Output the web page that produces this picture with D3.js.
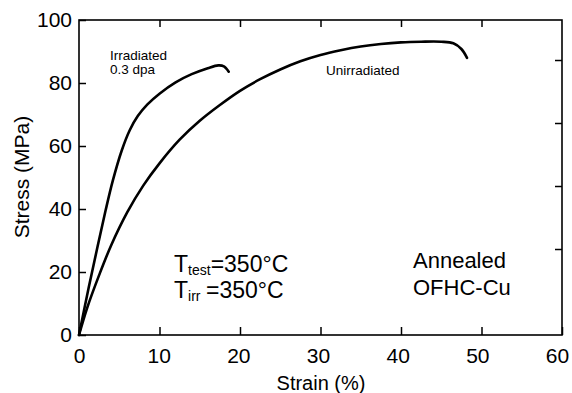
<!DOCTYPE html>
<html>
<head>
<meta charset="utf-8">
<script src="https://cdn.jsdelivr.net/npm/d3@7"></script>
<style>
  html, body { margin: 0; padding: 0; background: #fff; }
  svg { display: block; }
  text { font-family: "Liberation Sans", Arial, sans-serif; fill: #000; }
</style>
</head>
<body>
<svg id="chart" width="572" height="393"></svg>
<script>
// ---- data (strain %, stress MPa) ----
const irradiatedStrain = [0, 1.2, 2.3, 3.3, 4.2, 5.3, 6.3, 7.3, 8.5, 10, 12, 14, 16, 17.3, 18.0, 18.6];
const irradiatedStress = [0, 15, 28, 39.5, 49, 58.5, 65, 69.5, 73.2, 76.6, 80.2, 82.8, 84.7, 85.6, 85.3, 83.6];
const unirradiatedStrain = [0, 1, 2.5, 4, 6, 8, 10, 12.5, 15, 17.5, 20, 22.5, 25, 27.5, 30, 32.5, 35, 37.5, 40, 42.5, 45, 46.5, 47.5, 48.2];
const unirradiatedStress = [0, 8.5, 19, 28.5, 39, 47.5, 54.5, 62, 68, 73, 77.5, 81.2, 84.3, 86.9, 88.9, 90.4, 91.6, 92.4, 92.9, 93.1, 93.1, 92.6, 90.8, 88.0];
const xTickValues = [0, 10, 20, 30, 40, 50, 60];
const yTickValues = [0, 20, 40, 60, 80, 100];
const topTickValues = [10, 20, 30, 40, 50];
const rightTickValues = [27.3, 47.3, 67.3, 87.3];

const svg = d3.select("#chart");
const x = d3.scaleLinear().domain([0, 60]).range([79, 562]);
const y = d3.scaleLinear().domain([0, 100]).range([335, 20]);

// frame
svg.append("rect")
  .attr("x", x(0)).attr("y", y(100))
  .attr("width", x(60) - x(0)).attr("height", y(0) - y(100))
  .attr("fill", "none").attr("stroke", "#000").attr("stroke-width", 1.6);

function styleAxis(g, fontSize) {
  g.select(".domain").remove();
  g.selectAll(".tick line").attr("stroke", "#000").attr("stroke-width", 1.5);
  g.selectAll(".tick text").attr("font-size", fontSize).attr("font-family", '"Liberation Sans", Arial, sans-serif').attr("fill", "#000");
}

// bottom axis
svg.append("g").attr("transform", `translate(0,${y(0)})`)
  .call(d3.axisBottom(x).tickValues(xTickValues).tickSize(-8).tickPadding(13).tickFormat(d3.format("d")))
  .call(g => styleAxis(g, 21))
  .call(g => g.selectAll(".tick text").attr("dx", d => -(d / 60) * 5));
// left axis
svg.append("g").attr("transform", `translate(${x(0)},0)`)
  .call(d3.axisLeft(y).tickValues(yTickValues).tickSize(-7).tickPadding(7).tickFormat(d3.format("d")))
  .call(g => styleAxis(g, 21));
// top axis (ticks only)
svg.append("g").attr("transform", `translate(0,${y(100)})`)
  .call(d3.axisTop(x).tickValues(topTickValues).tickSize(-7).tickFormat(""))
  .call(g => styleAxis(g, 0));
// right axis (ticks only)
svg.append("g").attr("transform", `translate(${x(60)},0)`)
  .call(d3.axisRight(y).tickValues(rightTickValues).tickSize(-7).tickFormat(""))
  .call(g => styleAxis(g, 0));

// axis titles
svg.append("text").attr("x", 321).attr("y", 390)
  .attr("text-anchor", "middle").attr("font-size", 20).text("Strain (%)");
svg.append("text").attr("transform", `translate(29,177) rotate(-90)`)
  .attr("text-anchor", "middle").attr("font-size", 21).text("Stress (MPa)");

// curves
const line = d3.line().x(d => x(d[0])).y(d => y(d[1])).curve(d3.curveCatmullRom.alpha(0.5));
const irr = irradiatedStrain.map((s, i) => [s, irradiatedStress[i]]);
const unirr = unirradiatedStrain.map((s, i) => [s, unirradiatedStress[i]]);
[irr, unirr].forEach(d => {
  svg.append("path").datum(d).attr("d", line)
    .attr("fill", "none").attr("stroke", "#000").attr("stroke-width", 2.6)
    .attr("stroke-linecap", "round").attr("stroke-linejoin", "round");
});

// curve labels
svg.append("text").attr("x", 110).attr("y", 60).attr("font-size", 13.5).text("Irradiated");
svg.append("text").attr("x", 110).attr("y", 74).attr("font-size", 13.5).text("0.3 dpa");
svg.append("text").attr("x", 326).attr("y", 75).attr("font-size", 13.5).text("Unirradiated");

// annotations
const t1 = svg.append("text").attr("x", 174).attr("y", 272).attr("font-size", 23);
t1.append("tspan").text("T");
t1.append("tspan").attr("font-size", 14).attr("dy", 3).text("test");
t1.append("tspan").attr("dy", -3).text("=350°C");
const t2 = svg.append("text").attr("x", 174).attr("y", 298).attr("font-size", 23);
t2.append("tspan").text("T");
t2.append("tspan").attr("font-size", 14).attr("dy", 3).text("irr");
t2.append("tspan").attr("dy", -3).attr("x", 206).text("=350°C");

svg.append("text").attr("x", 413).attr("y", 268).attr("font-size", 22).text("Annealed");
svg.append("text").attr("x", 413).attr("y", 295).attr("font-size", 22).text("OFHC-Cu");
</script>
</body>
</html>
